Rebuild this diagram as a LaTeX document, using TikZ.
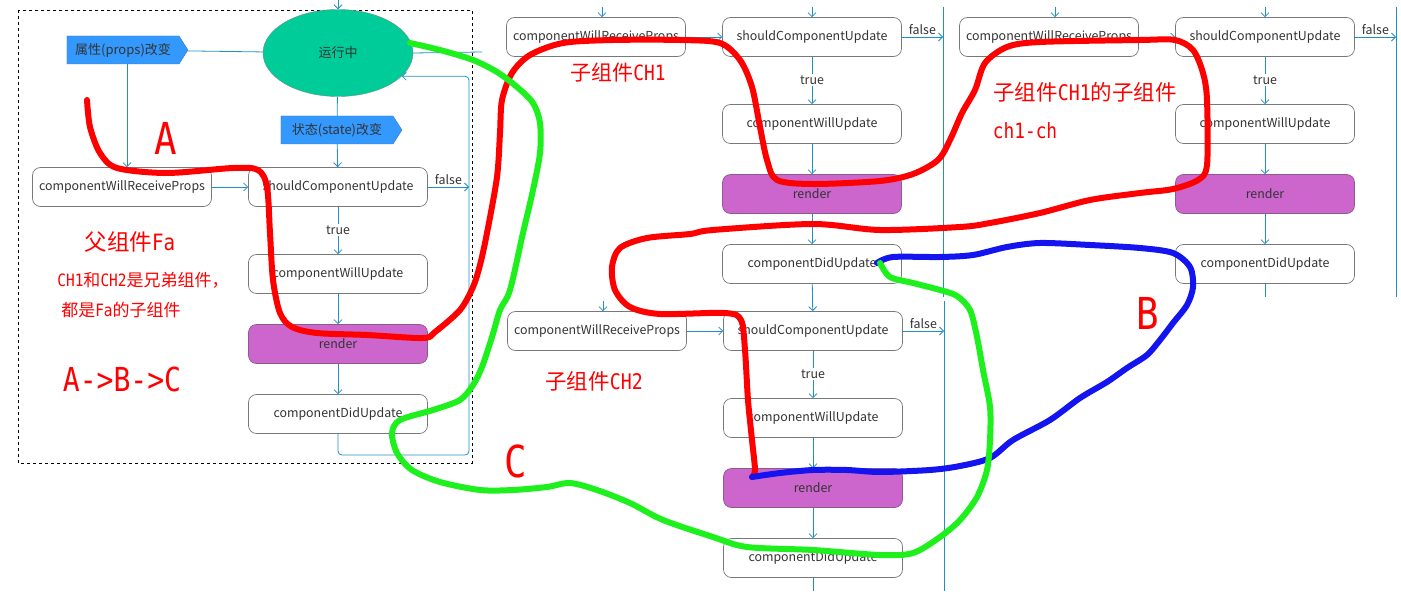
\documentclass[tikz,border=0pt]{standalone}
\usepackage{fontspec}
\setmainfont{Noto Sans CJK SC}
\newfontfamily\mono[FakeStretch=0.85]{DejaVu Sans Mono}
\usetikzlibrary{shapes.geometric,shapes.symbols,arrows.meta}
\definecolor{flowc}{RGB}{30,144,196}
\definecolor{boxc}{RGB}{120,120,120}
\definecolor{txtc}{RGB}{51,51,51}
\definecolor{rendc}{RGB}{204,102,204}
\definecolor{rendd}{RGB}{140,90,140}
\definecolor{signc}{RGB}{51,153,255}
\definecolor{signd}{RGB}{60,120,200}
\definecolor{runc}{RGB}{0,204,153}
\definecolor{rund}{RGB}{110,140,130}
\definecolor{penr}{RGB}{255,0,0}
\definecolor{peng}{RGB}{30,240,30}
\definecolor{penb}{RGB}{20,20,240}
\begin{document}
\begin{tikzpicture}[x=1pt, y=-1pt,
    box/.style={draw=boxc, rounded corners=8pt, minimum width=179pt, minimum height=39pt,
        text=txtc, font=\fontsize{12.4}{14}\selectfont, line width=0.7pt},
    rend/.style={box, fill=rendc, draw=rendd},
    sign/.style={signal, signal to=east, signal from=nowhere, signal pointer angle=115,
        fill=signc, draw=signd, minimum width=121pt, minimum height=28pt, inner sep=0pt,
        text=txtc, font=\fontsize{13}{14}\selectfont},
    wire/.style={draw=flowc, line width=0.8pt},
    flow/.style={wire, -{Straight Barb[length=4pt,width=8pt]}},
    lbl/.style={text=txtc, font=\fontsize{12.4}{14}\selectfont, inner sep=1.5pt},
    note/.style={text=penr, inner sep=0pt},
    redpen/.style={draw=penr, line width=6pt, line cap=round, line join=round},
    greenpen/.style={redpen, draw=peng},
    bluepen/.style={redpen, draw=penb}
]
\useasboundingbox (0,0) rectangle (1401,599);

% parent component frame
\draw[dashed, line width=0.6pt] (18,10) rectangle (472,463);
\node[ellipse, fill=runc, draw=rund, minimum width=150pt, minimum height=87pt,
    text=txtc, font=\fontsize{13}{14}\selectfont] (run) at (338,53) {运行中};
\node[sign] (props) at (123,50) {属性(props)改变};
\node[sign] (state) at (337,130) {状态(state)改变};

% the four update chains
\foreach \n/\x/\y in {p/122/187, a/596/37, b/1049/37, c/597/331}{
    \node[box] (\n-recv) at (\x,\y) {componentWillReceiveProps};
    \node[box] (\n-should) at (\x+216,\y) {shouldComponentUpdate};
    \node[lbl] (\n-true) at (\x+216,\y+43) {true};
    \node[box] (\n-will) at (\x+216,\y+87) {componentWillUpdate};
    \node[rend] (\n-render) at (\x+216,\y+157) {render};
    \node[box] (\n-did) at (\x+216,\y+227) {componentDidUpdate};
    \coordinate (\n-v) at (\x+347,\y);
    \draw[flow] (\n-recv) -- (\n-should);
    \draw[wire] (\n-should) -- (\n-true);
    \draw[flow] (\n-true) -- (\n-will);
    \draw[flow] (\n-will) -- (\n-render);
    \draw[flow] (\n-render) -- (\n-did);
    \draw[flow] (\n-should.east) -- node[lbl, above] (\n-false) {false} (\n-v);
}

% inputs and bus lines of the children
\foreach \n/\x/\y in {a/596/37, b/1049/37, c/597/331}{
    \coordinate (\n-in) at (\x+6,\y-30);
    \coordinate (\n-vtop) at (\x+347,\y-30);
    \coordinate (\n-vbot) at (\x+347,\y+260);
    \coordinate (\n-out) at (\x+216,\y+260);
    \draw[flow] (\n-in) -- (\n-in |- \n-recv.north);
    \draw[wire] (\n-vtop) -- (\n-vbot);
}
\coordinate (a-in2) at (812,7);
\coordinate (b-in2) at (1265,7);
\draw[flow] (a-in2) -- (a-should);
\draw[flow] (b-in2) -- (b-should);
\draw[flow] (a-did) -- (c-should);
\draw[wire] (b-did) -- (b-out);
\draw[wire] (c-did) -- (c-out);

% parent wiring
\coordinate (run-in) at (338,-2);
\coordinate (run-out) at (482,52);
\coordinate (p-loop) at (469,455);
\draw[flow] (run-in) -- (run);
\draw[wire] (props) -- (run);
\draw[wire] (run.east) -- (run-out);
\draw[flow] ([xshift=4pt]props.south) -- ([xshift=4pt]props.south |- p-recv.north);
\draw[wire] (run) -- (state);
\draw[flow] (state) -- (p-should);
\draw[flow, rounded corners=4pt] (p-did.south) |- (p-loop) |- (run.-20);

% notes
\node[note, font=\mono\fontsize{44}{44}\selectfont] (lab-a) at (166,138) {A};
\node[note, font=\fontsize{22.5}{24}\selectfont] (fa) at (130,242) {父组件{\mono Fa}};
\node[note, font=\fontsize{17}{19}\selectfont] (fa-1) at (143,280) {{\mono CH1}和{\mono CH2}是兄弟组件，};
\node[note, font=\fontsize{17}{19}\selectfont] (fa-2) at (121,310) {都是{\mono Fa}的子组件};
\node[note, font=\mono\fontsize{33}{33}\selectfont] (order) at (122,379) {A->B->C};
\node[note, font=\fontsize{21}{23}\selectfont] (ch1) at (618,73) {子组件{\mono CH1}};
\node[note, font=\fontsize{21.5}{23}\selectfont] (ch1ch) at (1085,92) {子组件{\mono CH1}的子组件};
\node[note, font=\mono\fontsize{21}{23}\selectfont] (ch1ch-2) at (1025,131) {ch1-ch};
\node[note, font=\fontsize{21.5}{23}\selectfont] (ch2) at (594,381) {子组件{\mono CH2}};
\node[note, font=\mono\fontsize{44}{44}\selectfont] (lab-b) at (1148,313) {B};
\node[note, font=\mono\fontsize{44}{44}\selectfont] (lab-c) at (516,461) {C};

% hand drawn paths A, B, C
\draw[redpen] plot[smooth, tension=0.5] coordinates {(87,100) (90,127) (100,153) (117,168)
    (167,173) (233,168) (258,170) (267,187) (270,233) (273,280) (280,313) (292,327) (317,333)
    (367,335) (423,338) (435,332) (460,310) (473,287) (480,265) (487,233) (497,177) (500,133)
    (502,100) (512,73) (530,55) (563,43) (613,40) (680,40) (720,43) (740,60) (752,87) (760,127)
    (767,160) (777,180) (813,184) (880,181) (913,174) (938,160) (950,140) (962,113) (975,90)
    (985,63) (1007,47) (1040,42) (1140,40) (1175,40) (1193,50) (1203,73) (1207,100) (1207,165)
    (1198,180) (1173,189) (1140,193) (1090,200) (1040,213) (990,223) (960,227) (880,230)
    (813,224) (713,230) (690,234) (647,238) (620,248) (612,267) (615,290) (630,307) (660,314)
    (725,313) (741,320) (745,350) (748,400) (752,440) (755,470) (752,477)};
\draw[bluepen] plot[smooth, tension=0.5] coordinates {(752,477) (780,473) (813,470) (847,470)
    (880,472) (930,470) (960,466) (990,458) (1013,440) (1050,420) (1080,398) (1107,382)
    (1127,368) (1147,355) (1160,340) (1173,323) (1187,305) (1193,287) (1190,267) (1173,253)
    (1140,248) (1090,245) (1040,243) (1007,247) (973,255) (940,257) (893,257) (877,263)};
\draw[greenpen] plot[smooth, tension=0.5] coordinates {(410,43) (440,50) (473,60) (497,72)
    (517,87) (533,103) (540,123) (540,153) (533,190) (523,233) (510,290) (500,310) (492,337)
    (482,367) (473,385) (460,400) (433,410) (400,420) (392,433) (397,453) (412,470) (440,482)
    (480,490) (513,490) (547,487) (570,483) (597,490) (630,503) (663,520) (713,537) (747,547)
    (813,550) (880,555) (913,553) (940,537) (960,520) (977,497) (987,470) (990,440) (990,407)
    (983,370) (977,337) (970,310) (957,296) (940,290) (913,283) (890,277) (880,263)};
\end{tikzpicture}
\end{document}
